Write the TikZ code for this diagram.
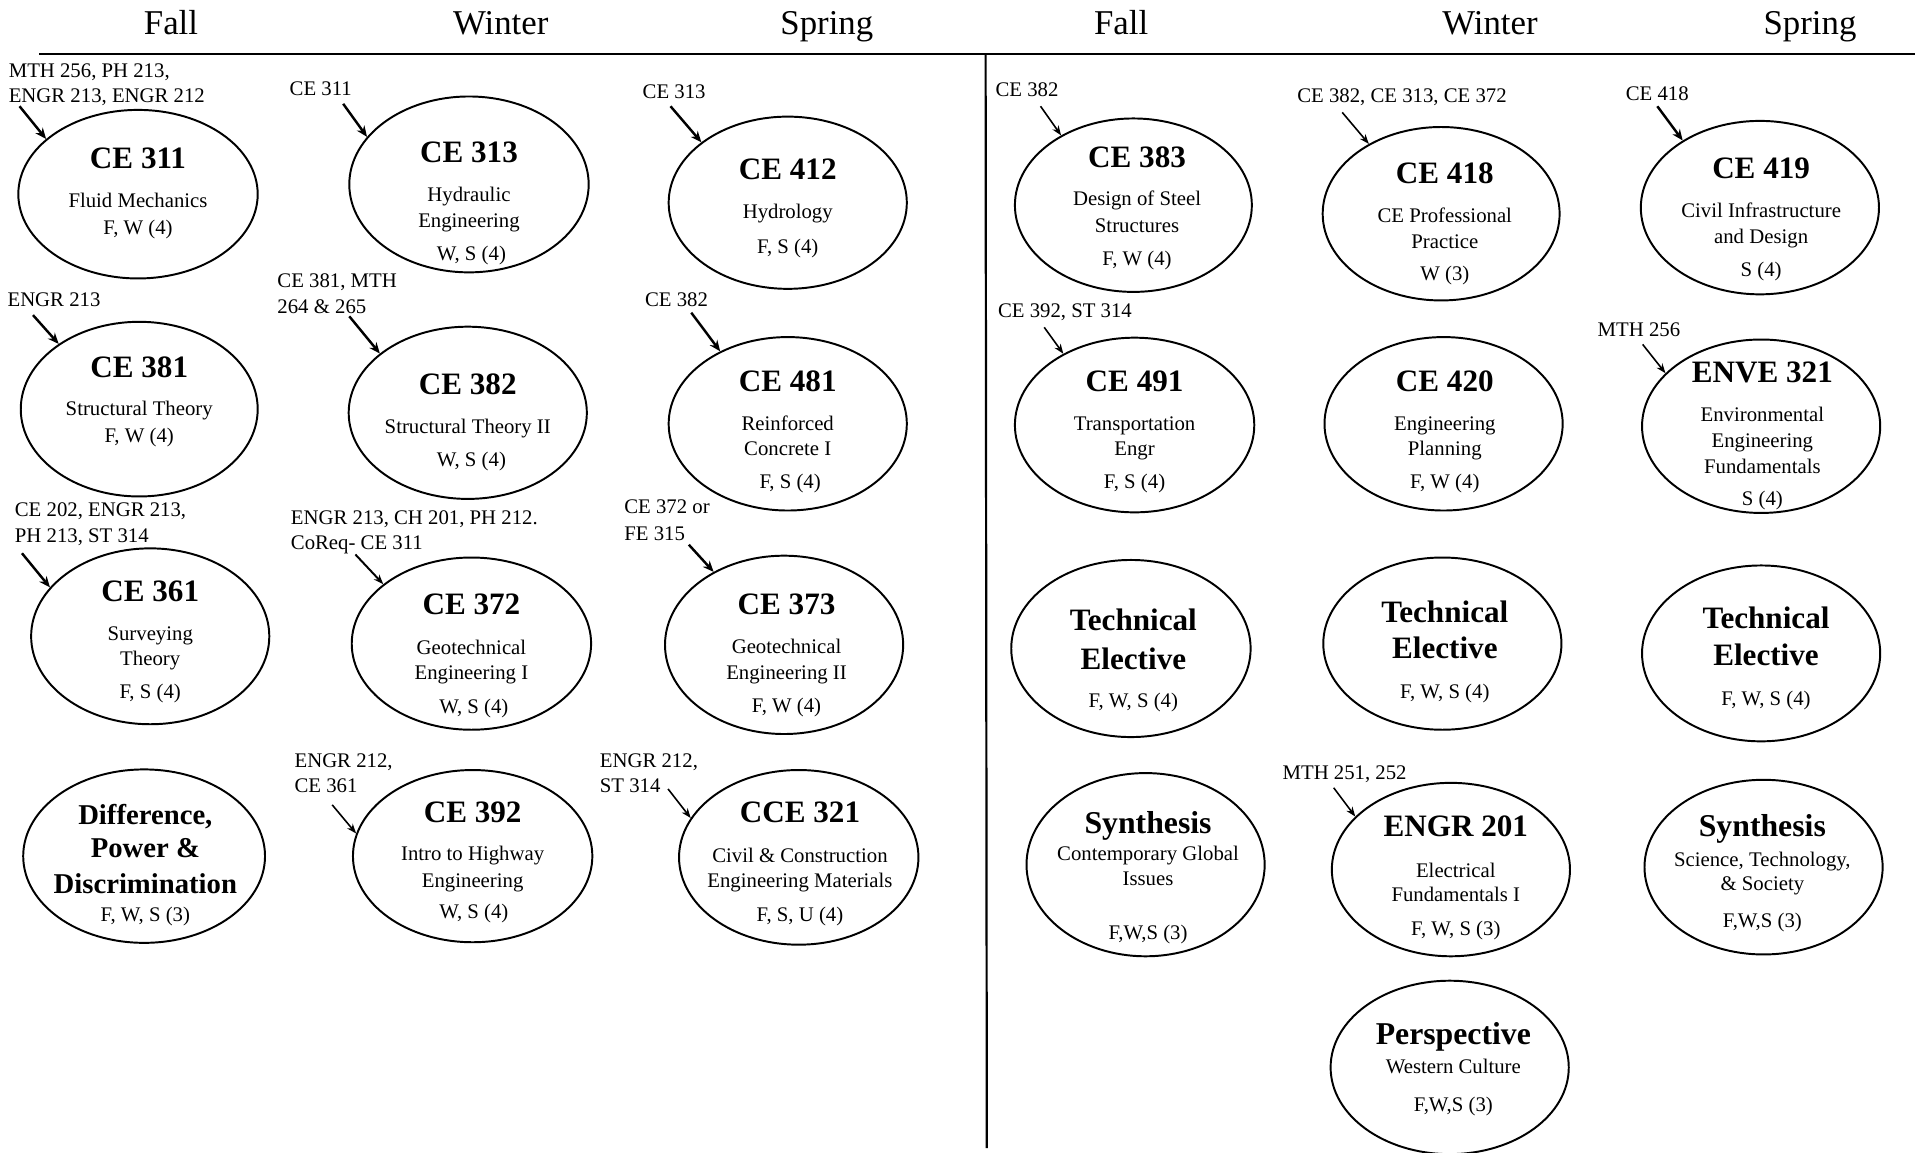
\documentclass[tikz,border=0pt]{standalone}
\usepackage{fontspec}
\setmainfont{Liberation Serif}
\usetikzlibrary{shapes.geometric,arrows.meta}
\tikzset{
 ell/.style={draw, ellipse, line width=1.6pt, inner sep=0pt, minimum width=195pt, minimum height=142pt},
 hd/.style={anchor=mid, inner sep=0pt, yshift=-4pt, font=\fontsize{28.5}{32}\selectfont},
 tt/.style={anchor=mid, inner sep=0pt, yshift=-6pt, font=\fontsize{25.5}{28}\selectfont\bfseries},
 tx/.style={anchor=mid, inner sep=0pt, yshift=-5pt, font=\fontsize{17}{20}\selectfont},
 pre/.style={anchor=mid west, inner sep=0pt, yshift=-4pt, font=\fontsize{17}{20}\selectfont},
 arrk/.style={line width=2pt, -{Stealth[length=9pt,width=7.5pt]}},
 arrt/.style={line width=1.3pt, -{Stealth[length=8pt,width=6pt]}},
}
\begin{document}
\begin{tikzpicture}[x=1pt,y=-1pt]
\fill[white] (0,0) rectangle (1568,944);
\useasboundingbox (0,0) rectangle (1568,944);
% headers
\node[hd] (h1) at (140,22) {Fall};
\node[hd] (h2) at (410,22) {Winter};
\node[hd] (h3) at (677,22) {Spring};
\node[hd] (h4) at (918,22) {Fall};
\node[hd] (h5) at (1220,22) {Winter};
\node[hd] (h6) at (1482,22) {Spring};
\coordinate (hl1) at (32,44);
\coordinate (hl2) at (1568,44);
\draw[line width=1.8pt] (hl1) -- (hl2);
\coordinate (vl1) at (807,44);
\coordinate (vl2) at (808,940);
\draw[line width=1.8pt] (vl1) -- (vl2);

% ===== Column A =====
\node[ell, minimum width=196pt, minimum height=138pt] (e311) at (113,159) {};
\node[tt] (t311) at (113,130) {CE 311};
\node[tx] (a311) at (113,163) {Fluid Mechanics};
\node[tx] (b311) at (113,185) {F, W (4)};
\node[pre] (p311a) at (7,57) {MTH 256, PH 213,};
\node[pre] (p311b) at (7,78) {ENGR 213, ENGR 212};
\coordinate (s311) at (16,87);
\draw[arrk] (s311) -- (e311.149);

\node[ell, minimum width=194pt, minimum height=143pt] (e381) at (114,335) {};
\node[tt] (t381) at (114,301) {CE 381};
\node[tx] (a381) at (114,333) {Structural Theory};
\node[tx] (b381) at (114,355) {F, W (4)};
\node[pre] (p381) at (6,245) {ENGR 213};
\coordinate (s381) at (27,258);
\draw[arrk] (s381) -- (e381.141);

\node[ell, minimum width=195pt, minimum height=144pt] (e361) at (123,521) {};
\node[tt] (t361) at (123,484) {CE 361};
\node[tx] (a361) at (123,517) {Surveying};
\node[tx] (b361) at (123,538) {Theory};
\node[tx] (c361) at (123,565) {F, S (4)};
\node[pre] (p361a) at (12,417) {CE 202, ENGR 213,};
\node[pre] (p361b) at (12,438) {PH 213, ST 314};
\coordinate (s361) at (18,453);
\draw[arrk] (s361) -- (e361.154);

\node[ell, minimum width=198pt, minimum height=142pt] (edpd) at (118,701) {};
\node[tt, font=\fontsize{23.5}{26}\selectfont\bfseries] (tdpd1) at (119,667) {Difference,};
\node[tt, font=\fontsize{23.5}{26}\selectfont\bfseries] (tdpd2) at (119,694) {Power \&};
\node[tt, font=\fontsize{23.5}{26}\selectfont\bfseries] (tdpd3) at (119,723) {Discrimination};
\node[tx] (bdpd) at (119,747) {F, W, S (3)};

% ===== Column B =====
\node[ell, minimum width=196pt, minimum height=144pt] (e313) at (384,151) {};
\node[tt] (t313) at (384,125) {CE 313};
\node[tx] (a313) at (384,158) {Hydraulic};
\node[tx] (b313) at (384,179) {Engineering};
\node[tx] (c313) at (386,206) {W, S (4)};
\node[pre] (p313) at (237,72) {CE 311};
\coordinate (s313) at (281,85);
\draw[arrk] (s313) -- (e313.155);

\node[ell, minimum width=195pt, minimum height=141pt] (e382) at (383,338) {};
\node[tt] (t382) at (383,315) {CE 382};
\node[tx] (a382) at (383,348) {Structural Theory II};
\node[tx] (b382) at (386,375) {W, S (4)};
\node[pre] (p382a) at (227,229) {CE 381, MTH};
\node[pre] (p382b) at (227,250) {264 \& 265};
\coordinate (s382) at (286,259);
\draw[arrk] (s382) -- (e382.146);

\node[ell, minimum width=196pt, minimum height=141pt] (e372) at (386,527) {};
\node[tt] (t372) at (386,495) {CE 372};
\node[tx] (a372) at (386,529) {Geotechnical};
\node[tx] (b372) at (386,549) {Engineering I};
\node[tx] (c372) at (388,577) {W, S (4)};
\node[pre] (p372a) at (238,423) {ENGR 213, CH 201, PH 212.};
\node[pre] (p372b) at (238,444) {CoReq- CE 311};
\coordinate (s372) at (291,454);
\draw[arrt, line width=1.6pt] (s372) -- (e372.146);

\node[ell, minimum width=196pt, minimum height=141pt] (e392) at (387,701) {};
\node[tt] (t392) at (387,665) {CE 392};
\node[tx] (a392) at (387,697) {Intro to Highway};
\node[tx] (b392) at (387,719) {Engineering};
\node[tx] (c392) at (388,745) {W, S (4)};
\node[pre] (p392a) at (241,622) {ENGR 212,};
\node[pre] (p392b) at (241,643) {CE 361};
\coordinate (s392) at (272,659);
\draw[arrt] (s392) -- (e392.169);

% ===== Column C =====
\node[ell, minimum width=195pt, minimum height=141pt] (e412) at (645,166) {};
\node[tt] (t412) at (645,139) {CE 412};
\node[tx] (a412) at (645,172) {Hydrology};
\node[tx] (b412) at (645,200) {F, S (4)};
\node[pre] (p412) at (526,74) {CE 313};
\coordinate (s412) at (549,87);
\draw[arrk] (s412) -- (e412.145);

\node[ell, minimum width=195pt, minimum height=142pt] (e481) at (645,347) {};
\node[tt] (t481) at (645,312) {CE 481};
\node[tx] (a481) at (645,345) {Reinforced};
\node[tx] (b481) at (645,366) {Concrete I};
\node[tx] (c481) at (647,393) {F, S (4)};
\node[pre] (p481) at (528,245) {CE 382};
\coordinate (s481) at (566,256);
\draw[arrk] (s481) -- (e481.133);

\node[ell, minimum width=195pt, minimum height=146pt] (e373) at (642,528) {};
\node[tt] (t373) at (644,495) {CE 373};
\node[tx] (a373) at (644,528) {Geotechnical};
\node[tx] (b373) at (644,549) {Engineering II};
\node[tx] (c373) at (644,576) {F, W (4)};
\node[pre] (p373a) at (511,414) {CE 372 or};
\node[pre] (p373b) at (511,436) {FE 315};
\coordinate (s373) at (564,446);
\draw[arrk] (s373) -- (e373.134);

\node[ell, minimum width=196pt, minimum height=143pt] (e321) at (654,702) {};
\node[tt] (t321) at (655,665) {CCE 321};
\node[tx] (a321) at (655,699) {Civil \& Construction};
\node[tx] (b321) at (655,719) {Engineering Materials};
\node[tx] (c321) at (655,747) {F, S, U (4)};
\node[pre] (p321a) at (491,622) {ENGR 212,};
\node[pre] (p321b) at (491,643) {ST 314};
\coordinate (s321) at (547,646);
\draw[arrt] (s321) -- (e321.160);

% ===== Column D =====
\node[ell, minimum width=194pt, minimum height=142pt] (e383) at (928,168) {};
\node[tt] (t383) at (931,129) {CE 383};
\node[tx] (a383) at (931,161) {Design of Steel};
\node[tx] (b383) at (931,183) {Structures};
\node[tx] (c383) at (931,210) {F, W (4)};
\node[pre] (p383) at (815,73) {CE 382};
\coordinate (s383) at (852,87);
\draw[arrt] (s383) -- (e383.136);

\node[ell, minimum width=196pt, minimum height=143pt] (e491) at (929,348) {};
\node[tt] (t491) at (929,312) {CE 491};
\node[tx] (a491) at (929,345) {Transportation};
\node[tx] (b491) at (929,366) {Engr};
\node[tx] (c491) at (929,393) {F, S (4)};
\node[pre] (p491) at (817,254) {CE 392, ST 314};
\coordinate (s491) at (855,268);
\draw[arrt] (s491) -- (e491.135);

\node[ell, minimum width=196pt, minimum height=145pt] (ete1) at (926,531) {};
\node[tt] (tte1a) at (928,508) {Technical};
\node[tt] (tte1b) at (928,540) {Elective};
\node[tx] (cte1) at (928,572) {F, W, S (4)};

\node[ell, minimum width=195pt, minimum height=150pt] (esy1) at (938,708) {};
\node[tt, font=\fontsize{26}{28}\selectfont\bfseries] (tsy1) at (940,674) {Synthesis};
\node[tx] (asy1) at (940,697) {Contemporary Global};
\node[tx] (bsy1) at (940,718) {Issues};
\node[tx] (csy1) at (940,762) {F,W,S (3)};

% ===== Column E =====
\node[ell, minimum width=194pt, minimum height=142pt] (e418) at (1180,175) {};
\node[tt] (t418) at (1183,142) {CE 418};
\node[tx] (a418) at (1183,175) {CE Professional};
\node[tx] (b418) at (1183,196) {Practice};
\node[tx] (c418) at (1183,222) {W (3)};
\node[pre] (p418) at (1062,78) {CE 382, CE 313, CE 372};
\coordinate (s418) at (1099,92);
\draw[arrt] (s418) -- (e418.136);

\node[ell, minimum width=195pt, minimum height=142pt] (e420) at (1182,347) {};
\node[tt] (t420) at (1183,312) {CE 420};
\node[tx] (a420) at (1183,345) {Engineering};
\node[tx] (b420) at (1183,366) {Planning};
\node[tx] (c420) at (1183,393) {F, W (4)};

\node[ell, minimum width=195pt, minimum height=141pt] (ete2) at (1181,527) {};
\node[tt] (tte2a) at (1183,501) {Technical};
\node[tt] (tte2b) at (1183,531) {Elective};
\node[tx] (cte2) at (1183,565) {F, W, S (4)};

\node[ell, minimum width=195pt, minimum height=142pt] (e201) at (1188,712) {};
\node[tt] (t201) at (1192,677) {ENGR 201};
\node[tx] (a201) at (1192,711) {Electrical};
\node[tx] (b201) at (1192,731) {Fundamentals I};
\node[tx] (c201) at (1192,759) {F, W, S (3)};
\node[pre] (p201) at (1050,632) {MTH 251, 252};
\coordinate (s201) at (1092,645);
\draw[arrt] (s201) -- (e201.151);

\node[ell, minimum width=195pt, minimum height=142pt] (eper) at (1187,874) {};
\node[tt, font=\fontsize{26}{28}\selectfont\bfseries] (tper) at (1190,847) {Perspective};
\node[tx] (aper) at (1190,872) {Western Culture};
\node[tx] (bper) at (1190,903) {F,W,S (3)};

% ===== Column F =====
\node[ell, minimum width=195pt, minimum height=142pt] (e419) at (1441,170) {};
\node[tt] (t419) at (1442,138) {CE 419};
\node[tx] (a419) at (1442,171) {Civil Infrastructure};
\node[tx] (b419) at (1442,192) {and Design};
\node[tx] (c419) at (1442,219) {S (4)};
\node[pre] (p419) at (1331,76) {CE 418};
\coordinate (s419) at (1357,87);
\draw[arrk] (s419) -- (e419.139);

\node[ell, minimum width=195pt, minimum height=142pt] (e321b) at (1442,349) {};
\node[tt] (tenv) at (1443,305) {ENVE 321};
\node[tx] (aenv) at (1443,338) {Environmental};
\node[tx] (benv) at (1443,359) {Engineering};
\node[tx] (cenv) at (1443,380) {Fundamentals};
\node[tx] (denv) at (1443,407) {S (4)};
\node[pre] (penv) at (1308,269) {MTH 256};
\coordinate (senv) at (1345,282);
\draw[arrt] (senv) -- (e321b.151);

\node[ell, minimum width=195pt, minimum height=144pt] (ete3) at (1442,535) {};
\node[tt] (tte3a) at (1446,506) {Technical};
\node[tt] (tte3b) at (1446,537) {Elective};
\node[tx] (cte3) at (1446,570) {F, W, S (4)};

\node[ell, minimum width=195pt, minimum height=143pt] (esy2) at (1444,710) {};
\node[tt, font=\fontsize{26}{28}\selectfont\bfseries] (tsy2) at (1443,677) {Synthesis};
\node[tx] (asy2) at (1443,702) {Science, Technology,};
\node[tx] (bsy2) at (1443,722) {\& Society};
\node[tx] (csy2) at (1443,752) {F,W,S (3)};
\end{tikzpicture}
\end{document}
